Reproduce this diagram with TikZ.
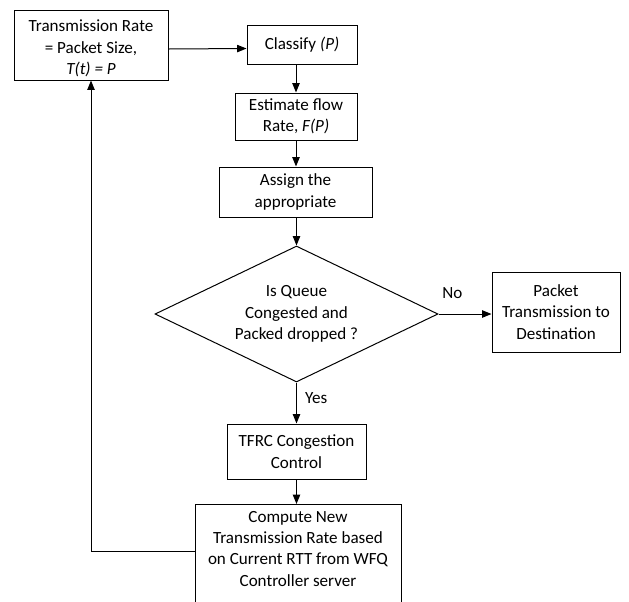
\documentclass[tikz,border=0pt]{standalone}
\usepackage{fontspec}
\setmainfont{Carlito}
\usetikzlibrary{shapes.geometric,arrows.meta}

\tikzset{every picture/.style={line width=0.75pt}}
\tikzset{
  box/.style={draw, align=center, inner sep=1pt, font=\fontsize{12.8}{16}\selectfont},
  lbl/.style={inner sep=1pt, font=\fontsize{12.8}{16}\selectfont},
  arr/.style={-{Triangle[length=7pt,width=5.5pt]}}
}

\begin{document}
\begin{tikzpicture}[x=0.75pt,y=0.75pt,yscale=-1,xscale=1]
        \useasboundingbox (0,0) rectangle (629,601);
        \clip (0,0) rectangle (629,601);

        %Shape: Rectangle
        \node [box, minimum width=115.5pt, minimum height=52.5pt, text height=44pt, text depth=0pt] (rate) at (91,45) {Transmission Rate\\= Packet Size,\\\textit{T(t) = P}};
        %Shape: Rectangle
        \node [box, minimum width=82.5pt, minimum height=29.25pt] (classify) at (302,44.5) {Classify \textit{(P)}};
        %Shape: Rectangle
        \node [box, minimum width=91.5pt, minimum height=35.25pt] (est) at (296,116.5) {Estimate flow\\Rate, \textit{F(P)}};
        %Shape: Rectangle
        \node [box, minimum width=114.75pt, minimum height=37.5pt] (assign) at (295.5,192) {Assign the\\appropriate};
        %Shape: Diamond
        \node [box, diamond, aspect=2.08, minimum width=212.25pt, minimum height=102pt, inner sep=0pt] (queue) at (296.5,314) {Is Queue\\Congested and\\Packed dropped ?};
        %Shape: Rectangle
        \node [box, minimum width=96pt, minimum height=60pt] (packet) at (556,312) {Packet\\Transmission to\\Destination};
        %Shape: Rectangle
        \node [box, minimum width=104.25pt, minimum height=41.25pt] (tfrc) at (296.5,451.5) {TFRC Congestion\\Control};
        %Shape: Rectangle
        \node [box, minimum width=154.5pt, inner ysep=5pt, text depth=14pt, anchor=north] (compute) at (298,504) {Compute New\\Transmission Rate based\\on Current RTT from WFQ\\Controller server};

        \coordinate (back) at (91,551);

        %Straight Lines
        \draw [arr] ([yshift=3pt]rate.east) -- ([yshift=3pt]classify.west);
        \draw [arr] (classify.south -| est.north) -- (est.north);
        \draw [arr] (est.south) -- (est.south |- assign.north);
        \draw [arr] (assign.south -| queue.north) -- (queue.north);
        \draw [arr] (queue.east) -- (queue.east -| packet.west) node [lbl, pos=0.26, above=10pt] (no) {No};
        \draw [arr] (queue.south) -- (queue.south |- tfrc.north) node [lbl, pos=0.38, anchor=west, xshift=5pt] (yes) {Yes};
        \draw [arr] (tfrc.south) -- (tfrc.south |- compute.north);
        \draw [arr] (compute.west |- back) -- (back) -- (back |- rate.south);
\end{tikzpicture}
\end{document}
